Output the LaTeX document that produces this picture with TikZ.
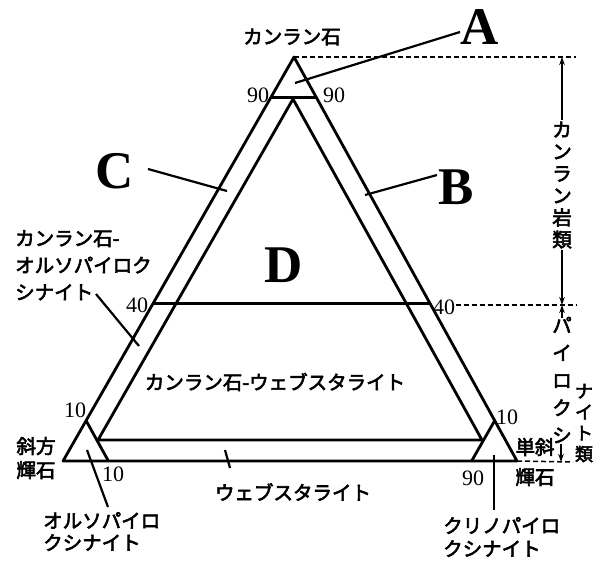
\documentclass[tikz,border=0pt]{standalone}
\usepackage{fontspec}
\setmainfont{Liberation Serif}
\newfontfamily\jp[FakeBold=3]{Noto Sans CJK JP}
\usetikzlibrary{arrows.meta,calc}
\begin{document}
\begin{tikzpicture}[x=1pt,y=-1pt,
  tri/.style={line width=2.8pt, line join=round},
  thinline/.style={line width=2.2pt},
  lead/.style={line width=2.2pt},
  dashline/.style={line width=1.5pt, dash pattern=on 5pt off 3pt},
  varrow/.style={line width=1.7pt, -{Stealth[length=8pt,width=5.5pt]}},
  jp/.style={font=\jp\fontsize{19.5}{24}\selectfont, inner sep=0pt},
  num/.style={font=\fontsize{22}{24}\selectfont, inner sep=0pt},
  big/.style={font=\bfseries\fontsize{53}{53}\selectfont, inner sep=0pt}]
\useasboundingbox (0,0) rectangle (593,563);
% main triangle
\coordinate (T) at (294,57);
\coordinate (L) at (63,461);
\coordinate (R) at (517,461);
\coordinate (Aa) at ($(T)!0.1!(L)$);
\coordinate (Ab) at ($(T)!0.1!(R)$);
\coordinate (La) at ($(L)!0.1!(T)$);
\coordinate (Lb) at ($(L)!0.1!(R)$);
\coordinate (Ra) at ($(R)!0.1!(T)$);
\coordinate (Rb) at ($(R)!0.1!(L)$);
\coordinate (Fa) at ($(T)!0.61!(L)$);
\coordinate (Fb) at ($(T)!0.61!(R)$);
\coordinate (DT) at (293,99);
\coordinate (DL) at (98,440);
\coordinate (DR) at (482,440);
\draw[tri] (T) -- (L) -- (R) -- cycle;
\draw[tri] (Aa) -- (Ab);
\draw[tri] (La) -- (Lb);
\draw[tri] (Ra) -- (Rb);
\draw[tri] (DT) -- (DL) -- (DR) -- cycle;
\draw[thinline] (Fa) -- (Fb);
% dashed guide lines
\coordinate (G1) at (576,57);
\coordinate (M1) at (456,305);
\coordinate (M2) at (577,305);
\coordinate (G3) at (573,462);
\draw[dashline] (T) -- (G1);
\draw[dashline] (M1) -- (M2);
\draw[dashline] (R) -- (G3);
% vertical arrows
\coordinate (V1) at (562,57);
\coordinate (V1a) at (562,120);
\coordinate (V2) at (562,305);
\coordinate (V2a) at (562,250);
\coordinate (V3a) at (562,318);
\coordinate (V4) at (561,462);
\coordinate (V4a) at (561,444);
\draw[varrow] (V1a) -- (V1);
\draw[varrow] (V2a) -- (V2);
\draw[varrow] (V3a) -- (V2);
\draw[varrow] (V4a) -- (V4);
% labels
\node[jp] (top) at (292,37) {カンラン石};
\node[big] (lA) at (480,27) {A};
\node[big] (lB) at (456,187) {B};
\node[big] (lC) at (115,171) {C};
\node[big] (lD) at (284,265) {D};
\node[num] (n90l) at (258,95) {90};
\node[num] (n90r) at (334,95) {90};
\node[num] (n40l) at (137,305) {40};
\node[num] (n40r) at (444,307) {40};
\node[num] (n10l) at (75,410) {10};
\node[num] (n10b) at (113,474) {10};
\node[num] (n10r) at (507,417) {10};
\node[num] (n90b) at (473,478) {90};
\node[jp, anchor=north west, align=left, font=\jp\fontsize{19.5}{27}\selectfont] (kop) at (15,230) {カンラン石-\\オルソパイロク\\シナイト};
\node[jp] (kw) at (275,382) {カンラン石-ウェブスタライト};
\node[jp, align=center] (opx) at (36,458) {斜方\\輝石};
\node[jp] (web) at (293,492) {ウェブスタライト};
\node[jp, anchor=north west, align=left, font=\jp\fontsize{19.5}{22}\selectfont] (orth) at (43,512) {オルソパイロ\\クシナイト};
\node[jp, align=center, font=\jp\fontsize{19.5}{30}\selectfont] (cpx) at (535,462) {単斜\\輝石};
\node[jp, anchor=north west, align=left, font=\jp\fontsize{19.5}{23}\selectfont] (clino) at (443,517) {クリノパイロ\\クシナイト};
\node[jp, align=center, font=\jp\fontsize{19.5}{22}\selectfont] (vk) at (562,185) {カ\\ン\\ラ\\ン\\岩\\類};
\node[jp, align=center, font=\jp\fontsize{19.5}{27.5}\selectfont] (vp) at (562,380) {パ\\イ\\ロ\\ク\\シ};
\node[jp, align=center, font=\jp\fontsize{18}{21}\selectfont] (vn) at (584,423) {ナ\\イ\\ト\\類};
% leader lines
\coordinate (A1) at (460,32);
\coordinate (A2) at (295,83);
\coordinate (B1) at (437,175);
\coordinate (B2) at (365,195);
\coordinate (C1) at (148,169);
\coordinate (C2) at (227,191);
\coordinate (K1) at (96,294);
\coordinate (K2) at (139,346);
\coordinate (O1) at (87,450);
\coordinate (O2) at (108,507);
\coordinate (W1) at (225,450);
\coordinate (W2) at (230,468);
\coordinate (Q1) at (494,455);
\coordinate (Q2) at (494,510);
\draw[lead] (A1) -- (A2);
\draw[lead] (B1) -- (B2);
\draw[lead] (C1) -- (C2);
\draw[lead] (K1) -- (K2);
\draw[lead] (O1) -- (O2);
\draw[lead] (W1) -- (W2);
\draw[lead] (Q1) -- (Q2);
\end{tikzpicture}
\end{document}
